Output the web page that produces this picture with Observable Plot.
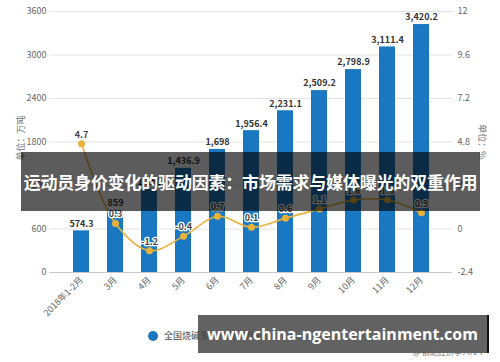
<!DOCTYPE html>
<html>
<head>
<meta charset="utf-8">
<script src="https://cdn.jsdelivr.net/npm/d3@7"></script>
<script src="https://cdn.jsdelivr.net/npm/@observablehq/plot@0.6"></script>
<style>
  html, body { margin: 0; padding: 0; background: #fff; }
  #wrap { position: relative; width: 500px; height: 362px; overflow: hidden; font-family: "Noto Sans CJK SC", "Noto Sans", sans-serif; }
  .abs { position: absolute; }
  #banner { left: 21px; top: 152px; width: 459px; height: 59px; background: rgba(0,0,0,0.64); color: #fff; font-weight: bold; font-size: 17px; letter-spacing: -0.2px; display: flex; align-items: center; justify-content: center; white-space: nowrap; overflow: hidden; }
  #site { left: 198px; top: 315px; width: 289px; height: 38px; background: rgba(70,70,70,0.85); border-right: 2px solid #111; color: #fff; font-weight: bold; font-size: 16px; font-family: "Open Sans", "DejaVu Sans", sans-serif; display: flex; align-items: center; justify-content: center; white-space: nowrap; }
  #src { right: 15px; top: 346px; font-size: 8px; color: #666; white-space: nowrap; }
  #lunit { left: 20px; top: 138px; font-size: 9px; color: #777; white-space: nowrap; transform: translate(-50%, -50%) rotate(-90deg); }
  #runit { left: 482px; top: 142px; font-size: 9px; color: #777; white-space: nowrap; transform: translate(-50%, -50%) rotate(90deg); }
  #legend { left: 148px; top: 329px; font-size: 9px; color: #444; display: flex; align-items: center; white-space: nowrap; }
  #legend .dot { width: 10px; height: 10px; border-radius: 50%; background: #1a78c2; margin-right: 6px; }
</style>
</head>
<body>
<div id="wrap">
  <div id="chart" class="abs" style="left:0;top:0"></div>
  <div id="lunit" class="abs">单位：万吨</div>
  <div id="runit" class="abs">单位：%</div>
  <div id="legend" class="abs"><span class="dot"></span><span>全国烧碱累计产量（万吨）</span></div>
  <div id="banner" class="abs">运动员身价变化的驱动因素：市场需求与媒体曝光的双重作用</div>
  <div id="site" class="abs">www.china-ngentertainment.com</div>
  <div id="src" class="abs">@ 前瞻经济学人APP</div>
</div>
<script>
const categories = ["2018年1-2月", "3月", "4月", "5月", "6月", "7月", "8月", "9月", "10月", "11月", "12月"];
const output = [574.3, 859, 1150, 1436.9, 1698, 1956.4, 2231.1, 2509.2, 2798.9, 3111.4, 3420.2];
const growth = [4.7, 0.3, -1.2, -0.4, 0.7, 0.1, 0.6, 1.1, 1.6, 1.6, 0.9];
const leftTicks = [0, 600, 1200, 1800, 2400, 3000, 3600];
const rightTicks = [-2.4, 0, 2.4, 4.8, 7.2, 9.6, 12];

const rMin = rightTicks[0], rMax = rightTicks[rightTicks.length - 1];
const lMin = leftTicks[0], lMax = leftTicks[leftTicks.length - 1];
const toLeft = v => lMin + (v - rMin) * (lMax - lMin) / (rMax - rMin);
const toRight = v => Math.round((rMin + (v - lMin) * (rMax - rMin) / (lMax - lMin)) * 10) / 10;

const data = categories.map((c, i) => ({cat: c, out: output[i], g: growth[i]}));
const fmt = d3.format(",");

const chart = Plot.plot({
  width: 500,
  height: 362,
  marginTop: 11,
  marginBottom: 90,
  marginLeft: 49,
  marginRight: 48,
  style: {fontFamily: "'Noto Sans CJK SC', 'Noto Sans', sans-serif", fontSize: "9px", color: "#666", background: "transparent"},
  x: {domain: categories, padding: 0.54},
  y: {domain: [lMin, lMax]},
  marks: [
    Plot.gridY(leftTicks, {stroke: "#e3e3e3", strokeOpacity: 1}),
    Plot.axisY(leftTicks, {anchor: "left", tickSize: 0, tickPadding: 3, label: null, fill: "#666", tickFormat: d => String(d)}),
    Plot.axisY(rightTicks.map(toLeft), {anchor: "right", tickSize: 0, tickPadding: 5, label: null, tickFormat: d => String(toRight(d)), fill: "#666"}),
    Plot.axisX({tickRotate: -45, tickSize: 0, tickPadding: 6, label: null, fill: "#666"}),
    Plot.barY(data, {x: "cat", y: "out", fill: "#1a78c2"}),
    Plot.ruleY([0], {stroke: "#c8c8c8"}),
    Plot.text(data, {x: "cat", y: "out", text: d => fmt(d.out), dy: -7, fontWeight: "bold", fill: "#333", fontSize: 9}),
    Plot.line(data, {x: "cat", y: d => toLeft(d.g), stroke: "#e8b23a", strokeWidth: 1.6, curve: "catmull-rom"}),
    Plot.dot(data, {x: "cat", y: d => toLeft(d.g), r: 3.5, fill: "#e8b23a", stroke: "none"}),
    Plot.text(data, {x: "cat", y: d => toLeft(d.g), text: d => String(d.g), dy: -9, fontWeight: "bold", fill: "#444", stroke: "white", strokeWidth: 2.5, fontSize: 9})
  ]
});
document.getElementById("chart").appendChild(chart);
</script>
</body>
</html>
